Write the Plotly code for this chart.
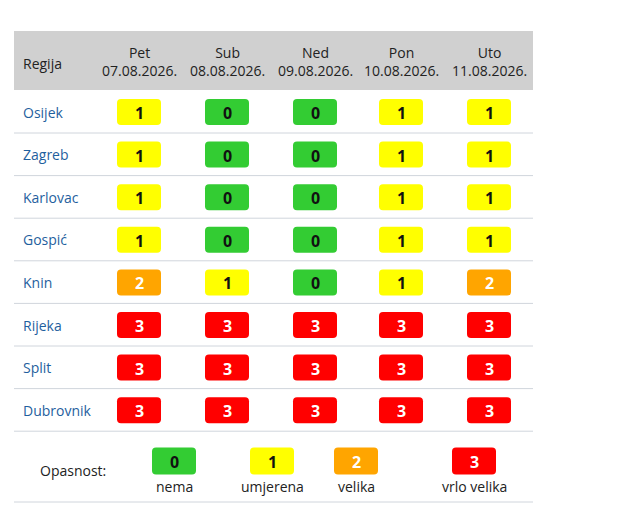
import plotly.graph_objects as go

regions = ["Osijek", "Zagreb", "Karlovac", "Gospić", "Knin", "Rijeka", "Split", "Dubrovnik"]
days = ["Pet", "Sub", "Ned", "Pon", "Uto"]
dates = ["07.08.2026.", "08.08.2026.", "09.08.2026.", "10.08.2026.", "11.08.2026."]
values = [
    [1, 0, 0, 1, 1],
    [1, 0, 0, 1, 1],
    [1, 0, 0, 1, 1],
    [1, 0, 0, 1, 1],
    [2, 1, 0, 1, 2],
    [3, 3, 3, 3, 3],
    [3, 3, 3, 3, 3],
    [3, 3, 3, 3, 3],
]
levels = [0, 1, 2, 3]
level_names = ["nema", "umjerena", "velika", "vrlo velika"]
level_colors = ["#33cc33", "#ffff00", "#ffa500", "#ff0000"]
level_text = ["#111111", "#111111", "#ffffff", "#ffffff"]

W, H = 622, 517
OFF = 8  # page body margin
col_x = [139, 227, 315, 401, 489]
row0, row_h = 112, 42.6
legend_x = [174, 272, 356, 474]
FONT = "Open Sans"

def rrect(cx, cy, w=44, h=26, r=4):
    x0, x1, y0, y1 = cx - w/2, cx + w/2, cy - h/2, cy + h/2
    return (f"M{x0+r},{y0} L{x1-r},{y0} Q{x1},{y0} {x1},{y0+r} L{x1},{y1-r} Q{x1},{y1} {x1-r},{y1} "
            f"L{x0+r},{y1} Q{x0},{y1} {x0},{y1-r} L{x0},{y0+r} Q{x0},{y0} {x0+r},{y0} Z")

shapes = [
    dict(type="line", x0=0, x1=W, y0=1, y1=1, line=dict(color="#d0d5dc", width=2)),
    dict(type="rect", x0=14, x1=533, y0=31, y1=90, fillcolor="#d0d0d0", line_width=0, layer="below"),
]
ann = []
ann.append(dict(x=21, y=63, text="Regija", xanchor="left", showarrow=False, font=dict(size=14, color="#222")))
for j, (d, dt) in enumerate(zip(days, dates)):
    ann.append(dict(x=col_x[j], y=61, text=f"{d}<br>{dt}", showarrow=False,
                    font=dict(size=14, color="#222"), yshift=0))
for i, reg in enumerate(regions):
    cy = row0 + i * row_h
    ann.append(dict(x=21, y=cy, text=reg, xanchor="left", showarrow=False,
                    font=dict(size=14, color="#1f5f9e")))
    shapes.append(dict(type="line", x0=14, x1=533, y0=cy + 21, y1=cy + 21,
                       line=dict(color="#d0d5dc", width=1)))
    for j, v in enumerate(values[i]):
        shapes.append(dict(type="path", path=rrect(col_x[j], cy), fillcolor=level_colors[v], line_width=0))
        ann.append(dict(x=col_x[j], y=cy + 1, text=f"<b>{v}</b>", showarrow=False,
                        font=dict(size=16, color=level_text[v])))
ann.append(dict(x=73, y=470, text="Opasnost:", showarrow=False, font=dict(size=14, color="#222")))
for k, lv in enumerate(levels):
    shapes.append(dict(type="path", path=rrect(legend_x[k], 461, w=44, h=27), fillcolor=level_colors[lv], line_width=0))
    ann.append(dict(x=legend_x[k], y=462, text=f"<b>{lv}</b>", showarrow=False,
                    font=dict(size=16, color=level_text[lv])))
    ann.append(dict(x=legend_x[k], y=486, text=level_names[k], showarrow=False,
                    font=dict(size=14, color="#222")))
shapes.append(dict(type="line", x0=14, x1=533, y0=502, y1=502, line=dict(color="#d0d5dc", width=1)))

fig = go.Figure()
fig.update_layout(
    width=W - 2 * OFF, height=H - 2 * OFF, margin=dict(l=0, r=0, t=0, b=0),
    paper_bgcolor="white", plot_bgcolor="white",
    xaxis=dict(range=[OFF, W - OFF], visible=False, fixedrange=True),
    yaxis=dict(range=[H - OFF, OFF], visible=False, fixedrange=True),
    shapes=shapes, annotations=ann, font=dict(family=FONT), showlegend=False,
)
fig.write_html("out.html")
